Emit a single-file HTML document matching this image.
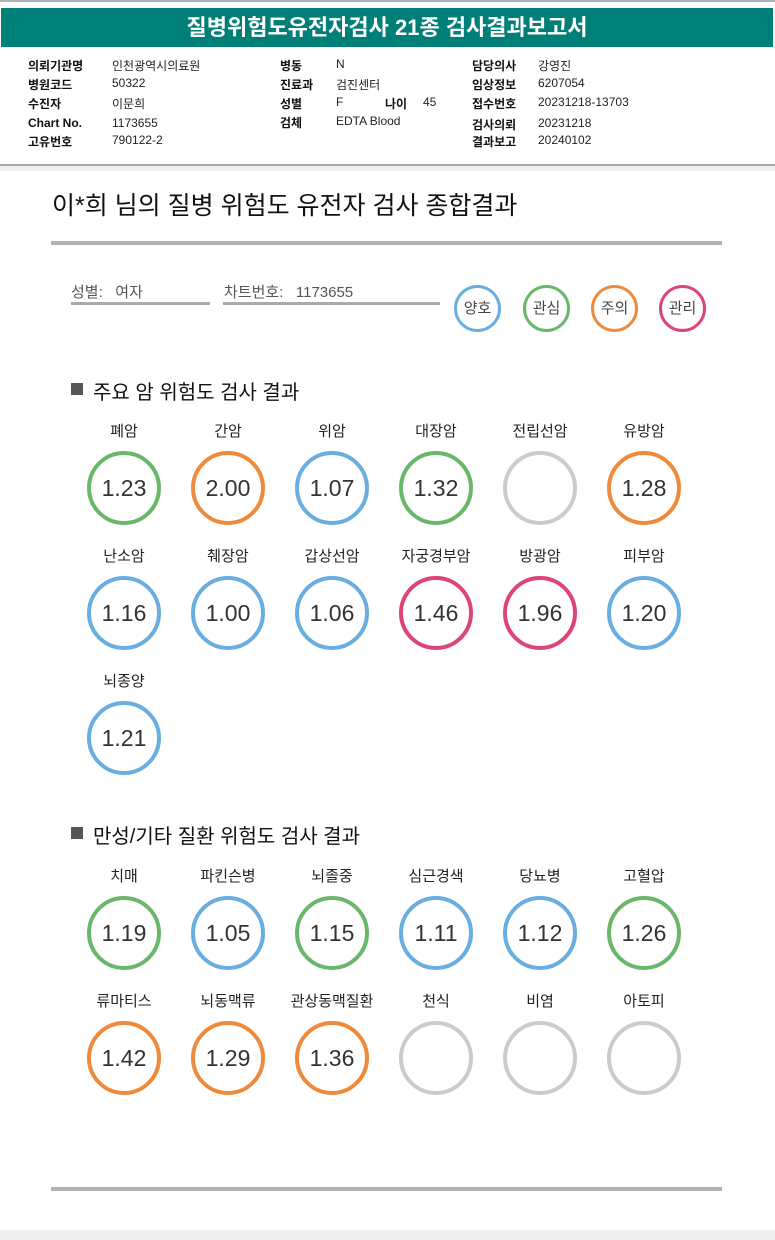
<!DOCTYPE html>
<html><head><meta charset="utf-8"><style>
*{margin:0;padding:0;box-sizing:border-box}
body{width:775px;height:1240px;background:#fff;position:relative;overflow:hidden;font-family:"Liberation Sans","Noto Sans CJK KR",sans-serif;color:#222}
.a{position:absolute;white-space:nowrap}
.hdr{left:1px;top:8px;width:772px;height:39px;background:#007e78;color:#fff;font-size:22px;font-weight:bold;text-align:center;line-height:39px}
.k{font-size:12px;font-weight:bold;color:#111}
.v{font-size:12px;color:#222}
.c{position:absolute;width:74px;height:74px;border-radius:50%;border-width:4px;border-style:solid;text-align:center;line-height:66px;font-size:23px;color:#333}
.l{position:absolute;width:104px;text-align:center;font-size:15px;color:#222}
.lg{position:absolute;width:47px;height:47px;border-radius:50%;border-width:3px;border-style:solid;text-align:center;line-height:41px;font-size:15px;color:#444;top:285px}
.b{border-color:#6aaddf}.g{border-color:#6ab76a}.o{border-color:#ee8a3b}.p{border-color:#dd4479}.n{border-color:#cbcbcb}
.sec{font-size:20px;color:#111}
.sq{position:absolute;width:12px;height:12px;background:#555}
</style></head><body>
<div class="a" style="left:0;top:0;width:775px;height:2px;background:#b0b0b0"></div>
<div class="a hdr">질병위험도유전자검사 21종 검사결과보고서</div>
<div class="a k" style="left:28px;top:57px">의뢰기관명</div><div class="a v" style="left:112px;top:57px">인천광역시의료원</div>
<div class="a k" style="left:28px;top:76px">병원코드</div><div class="a v" style="left:112px;top:76px">50322</div>
<div class="a k" style="left:28px;top:95px">수진자</div><div class="a v" style="left:112px;top:95px">이문희</div>
<div class="a k" style="left:28px;top:116px">Chart No.</div><div class="a v" style="left:112px;top:116px">1173655</div>
<div class="a k" style="left:28px;top:133px">고유번호</div><div class="a v" style="left:112px;top:133px">790122-2</div>
<div class="a k" style="left:280px;top:57px">병동</div><div class="a v" style="left:336px;top:57px">N</div>
<div class="a k" style="left:280px;top:76px">진료과</div><div class="a v" style="left:336px;top:76px">검진센터</div>
<div class="a k" style="left:280px;top:95px">성별</div><div class="a v" style="left:336px;top:95px">F</div>
<div class="a k" style="left:385px;top:95px">나이</div><div class="a v" style="left:423px;top:95px">45</div>
<div class="a k" style="left:280px;top:114px">검체</div><div class="a v" style="left:336px;top:114px">EDTA Blood</div>
<div class="a k" style="left:472px;top:57px">담당의사</div><div class="a v" style="left:538px;top:57px">강영진</div>
<div class="a k" style="left:472px;top:76px">임상정보</div><div class="a v" style="left:538px;top:76px">6207054</div>
<div class="a k" style="left:472px;top:95px">접수번호</div><div class="a v" style="left:538px;top:95px">20231218-13703</div>
<div class="a k" style="left:472px;top:116px">검사의뢰</div><div class="a v" style="left:538px;top:116px">20231218</div>
<div class="a k" style="left:472px;top:133px">결과보고</div><div class="a v" style="left:538px;top:133px">20240102</div>
<div class="a" style="left:0;top:164px;width:775px;height:2px;background:#aaa"></div>
<div class="a" style="left:0;top:166px;width:775px;height:5px;background:#efefef"></div>
<div class="a" style="left:52px;top:186px;font-size:25px;color:#111">이*희 님의 질병 위험도 유전자 검사 종합결과</div>
<div class="a" style="left:51px;top:241px;width:671px;height:4px;background:#b0b0b0"></div>
<div class="a" style="left:71px;top:281px;font-size:15px;color:#555">성별: &nbsp;&nbsp;여자</div>
<div class="a" style="left:71px;top:302px;width:139px;height:3px;background:#aaa"></div>
<div class="a" style="left:224px;top:281px;font-size:15px;color:#555">차트번호: &nbsp;&nbsp;1173655</div>
<div class="a" style="left:223px;top:302px;width:217px;height:3px;background:#aaa"></div>
<div class="lg b" style="left:454px">양호</div>
<div class="lg g" style="left:523px">관심</div>
<div class="lg o" style="left:591px">주의</div>
<div class="lg p" style="left:659px">관리</div>
<div class="sq" style="left:71px;top:383px"></div><div class="a sec" style="left:93px;top:376px">주요 암 위험도 검사 결과</div>
<div class="sq" style="left:71px;top:827px"></div><div class="a sec" style="left:93px;top:820px">만성/기타 질환 위험도 검사 결과</div>
<div class="a" style="left:51px;top:1187px;width:671px;height:4px;background:#b0b0b0"></div>
<div class="a" style="left:0;top:1230px;width:775px;height:10px;background:#efefef"></div>
<div id="g"></div>
<script>
var rows=[[420,[["폐암","1.23","g"],["간암","2.00","o"],["위암","1.07","b"],["대장암","1.32","g"],["전립선암","","n"],["유방암","1.28","o"]]],
[545,[["난소암","1.16","b"],["췌장암","1.00","b"],["갑상선암","1.06","b"],["자궁경부암","1.46","p"],["방광암","1.96","p"],["피부암","1.20","b"]]],
[670,[["뇌종양","1.21","b"]]],
[865,[["치매","1.19","g"],["파킨슨병","1.05","b"],["뇌졸중","1.15","g"],["심근경색","1.11","b"],["당뇨병","1.12","b"],["고혈압","1.26","g"]]],
[990,[["류마티스","1.42","o"],["뇌동맥류","1.29","o"],["관상동맥질환","1.36","o"],["천식","","n"],["비염","","n"],["아토피","","n"]]]];
var h="";rows.forEach(function(r){r[1].forEach(function(it,i){var cx=124+104*i;
h+='<div class="l" style="left:'+(cx-52)+'px;top:'+r[0]+'px">'+it[0]+'</div>';
h+='<div class="c '+it[2]+'" style="left:'+(cx-37)+'px;top:'+(r[0]+31)+'px">'+it[1]+'</div>';});});
document.getElementById("g").innerHTML=h;
</script>
</body></html>
